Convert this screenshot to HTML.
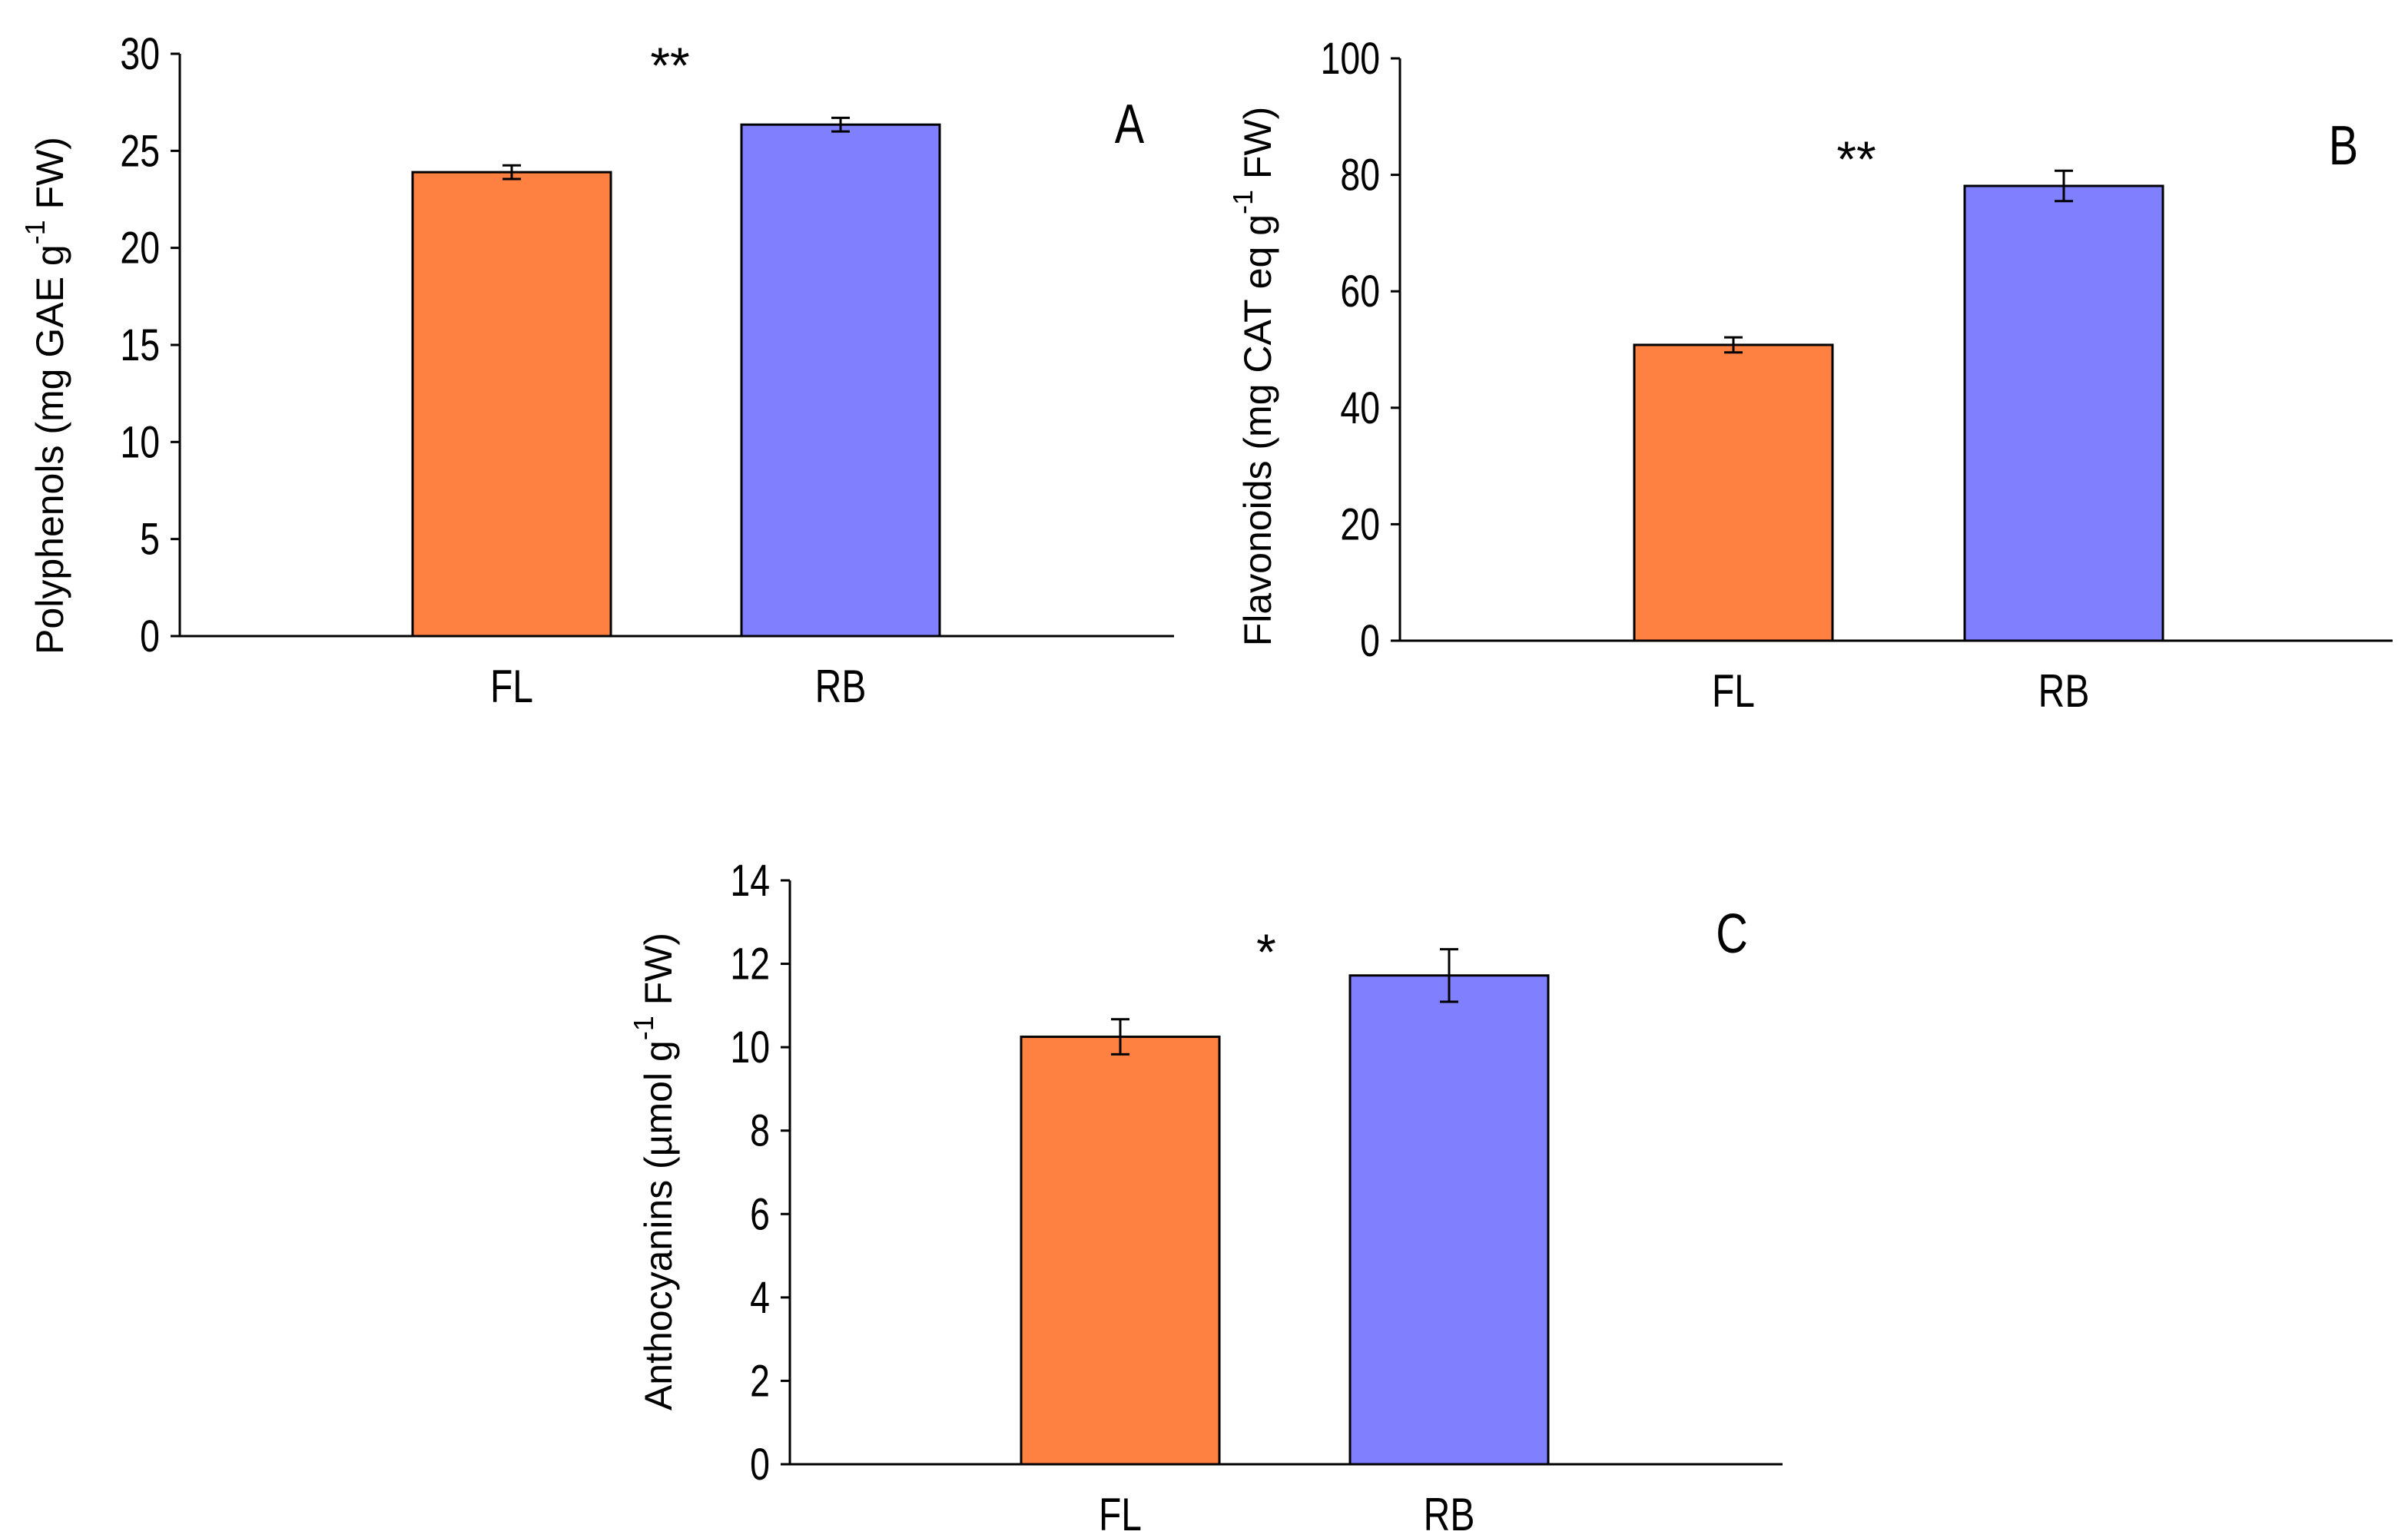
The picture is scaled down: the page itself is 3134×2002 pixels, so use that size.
<!DOCTYPE html>
<html><head><meta charset="utf-8"><style>
html,body{margin:0;padding:0;background:#fff;}
svg{display:block;}
text{font-family:"Liberation Sans Narrow","Liberation Sans",sans-serif;fill:#000;}
.ttl{font-family:"Liberation Sans",sans-serif;font-size:50px;}
</style></head><body>
<svg id="chart" width="3134" height="2002" viewBox="0 0 3134 2002" xmlns="http://www.w3.org/2000/svg"></svg>
<script>
const categories = ["FL","RB"];
const colors = ["#ff8142","#8080ff"];
const valuesA = [23.9, 26.35];
const errorsA = [0.35, 0.35];
const ticksA = [0,5,10,15,20,25,30];
const valuesB = [50.8, 78.1];
const errorsB = [1.3, 2.6];
const ticksB = [0,20,40,60,80,100];
const valuesC = [10.25, 11.72];
const errorsC = [0.42, 0.63];
const ticksC = [0,2,4,6,8,10,12,14];

const NS="http://www.w3.org/2000/svg";
const svg=document.getElementById('chart');
function mk(tag,attrs,parent,txt){const e=document.createElementNS(NS,tag);for(const k in attrs)e.setAttribute(k,attrs[k]);if(txt!==undefined)e.textContent=txt;(parent||svg).appendChild(e);return e;}
function ntext(x,y,anchor,size,txt,parent){return mk('text',{transform:`translate(${x},${y}) scale(0.8,1)`,'text-anchor':anchor,'font-size':size},parent,txt);}

function panel(cfg){
  const g=mk('g',{});
  
  
  const ymax=cfg.ticks[cfg.ticks.length-1];
  const y=v=>cfg.y0-(v/ymax)*(cfg.y0-cfg.ytop);
  const ya=mk('line',{x1:cfg.ax,y1:cfg.ytop,x2:cfg.ax,y2:cfg.y0,stroke:'#000','stroke-width':3},g);
  
  
  cfg.ticks.forEach(t=>{
    const tk=mk('line',{x1:cfg.ax-12,y1:y(t),x2:cfg.ax,y2:y(t),stroke:'#000','stroke-width':3},g);
    
    
    const tl=ntext(cfg.ax-26,y(t)+20,'end',58,String(t),g);
    
    
  });
  categories.forEach((c,i)=>{
    const cx=cfg.cx[i],w=258,v=cfg.vals[i],e=cfg.errs[i];
    const b=mk('rect',{x:cx-w/2,y:y(v),width:w,height:cfg.y0-y(v),fill:colors[i],stroke:'#000','stroke-width':3},g);
    
    
    const eg=mk('g',{stroke:'#000','stroke-width':3},g);
    
    
    mk('line',{x1:cx,y1:y(v+e),x2:cx,y2:y(v-e)},eg);
    mk('line',{x1:cx-12,y1:y(v+e),x2:cx+12,y2:y(v+e)},eg);
    mk('line',{x1:cx-12,y1:y(v-e),x2:cx+12,y2:y(v-e)},eg);
    const cl=ntext(cx,cfg.y0+86,'middle',60,c,g);
    
    
  });
  const xa=mk('line',{x1:cfg.ax-8,y1:cfg.y0,x2:cfg.xend,y2:cfg.y0,stroke:'#000','stroke-width':3},g);
  
  
  const st=mk('text',{x:cfg.star[0],y:cfg.star[1],'text-anchor':'middle','font-size':66},g,cfg.starTxt);
  
  
  const pl=ntext(cfg.lab[0],cfg.lab[1],'middle',72,cfg.id,g);
  
  
  const tt=mk('text',{class:'ttl','text-anchor':'middle',transform:`translate(${cfg.tx},${cfg.ty}) rotate(-90)`},g);
  
  
  mk('tspan',{},tt,cfg.t1);
  mk('tspan',{dy:-24,'font-size':36},tt,'-1');
  mk('tspan',{dy:24},tt,' FW)');
}

panel({id:'A',ax:234,y0:828,ytop:70,xend:1528,ticks:ticksA,vals:valuesA,errs:errorsA,cx:[666,1094],star:[872,108],starTxt:'**',lab:[1470,186],tx:82,ty:515,t1:'Polyphenols (mg GAE g'});
panel({id:'B',ax:1822,y0:834,ytop:76,xend:3114,ticks:ticksB,vals:valuesB,errs:errorsB,cx:[2256,2686],star:[2416,230],starTxt:'**',lab:[3050,214],tx:1654,ty:490,t1:'Flavonoids (mg CAT eq g'});
panel({id:'C',ax:1028,y0:1906,ytop:1146,xend:2320,ticks:ticksC,vals:valuesC,errs:errorsC,cx:[1458,1886],star:[1648,1262],starTxt:'*',lab:[2254,1240],tx:874,ty:1525,t1:'Anthocyanins (\u00b5mol g'});
</script>
</body></html>
